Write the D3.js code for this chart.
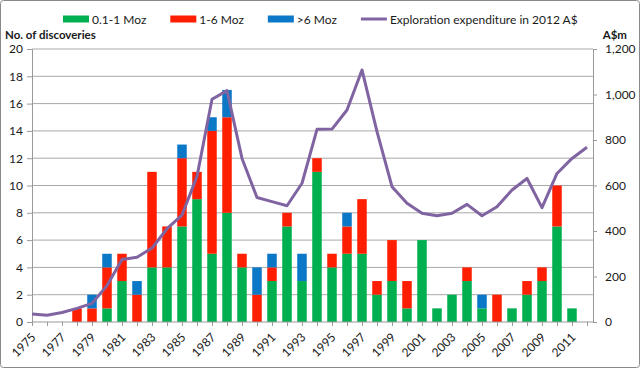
<!DOCTYPE html>
<html>
<head>
<meta charset="utf-8">
<script src="https://cdn.jsdelivr.net/npm/d3@7"></script>
<style>
  body { margin: 0; background: #fff; }
  svg { display: block; font-family: Lato, "Open Sans", sans-serif; }
</style>
</head>
<body>
<div id="chart"></div>
<script>
var years = [1975, 1976, 1977, 1978, 1979, 1980, 1981, 1982, 1983, 1984,
  1985, 1986, 1987, 1988, 1989, 1990, 1991, 1992, 1993, 1994,
  1995, 1996, 1997, 1998, 1999, 2000, 2001, 2002, 2003, 2004,
  2005, 2006, 2007, 2008, 2009, 2010, 2011, 2012];

// number of discoveries by deposit size
var small = [0, 0, 0, 0, 0, 1, 3, 0, 4, 4, 7, 9, 5, 8, 4, 0, 3, 7, 3, 11,
  4, 5, 5, 2, 3, 1, 6, 1, 2, 3, 1, 0, 1, 2, 3, 7, 1, 0];
var medium = [0, 0, 0, 1, 1, 3, 2, 2, 7, 3, 5, 2, 9, 7, 1, 2, 1, 1, 0, 1,
  1, 2, 4, 1, 3, 2, 0, 0, 0, 1, 0, 2, 0, 1, 1, 3, 0, 0];
var large = [0, 0, 0, 0, 1, 1, 0, 1, 0, 0, 1, 0, 1, 2, 0, 2, 1, 0, 2, 0,
  0, 1, 0, 0, 0, 0, 0, 0, 0, 0, 1, 0, 0, 0, 0, 0, 0, 0];

// exploration expenditure, A$m (2012 dollars)
var expenditure = [35, 30, 42, 60, 82, 160, 275, 285, 325, 410,
  470, 640, 979, 1017, 719, 547, 529, 511, 610, 847,
  848, 932, 1108, 837, 595, 522, 478, 467, 478, 517,
  467, 507, 580, 631, 503, 653, 719, 768];

var countTicks = [0, 2, 4, 6, 8, 10, 12, 14, 16, 18, 20];
var moneyTicks = [0, 200, 400, 600, 800, 1000, 1200];
var yearLabels = [1975, 1977, 1979, 1981, 1983, 1985, 1987, 1989, 1991, 1993,
  1995, 1997, 1999, 2001, 2003, 2005, 2007, 2009, 2011];

var sizeKeys = ["small", "medium", "large"];
var sizeNames = ["0.1-1 Moz", "1-6 Moz", ">6 Moz"];
var sizeColors = ["#00b050", "#ff1f00", "#0a77c7"];
var lineName = "Exploration expenditure in 2012 A$";

function DiscoveryChart(element, width, height) {
  var _chart = {};

  var _margins = { top: 49, right: 47, bottom: 46, left: 32 },
    _width = width || 640,
    _height = height || 368,
    _svg, _bodyG, _x, _y, _y2;

  _chart.render = function() {
    _svg = d3.select(element).append("svg")
      .attr("width", _width)
      .attr("height", _height);

    _svg.append("rect")
      .attr("x", 0.5).attr("y", 0.5)
      .attr("width", _width - 1).attr("height", _height - 1)
      .attr("rx", 3)
      .attr("fill", "#fff")
      .attr("stroke", "#8a8a8a");

    _x = d3.scalePoint().domain(years).range([0, 555]);
    _y = d3.scaleLinear().domain([0, 20]).range([visibleHeight(), 0]);
    _y2 = d3.scaleLinear().domain([0, 1200]).range([visibleHeight(), 0]);

    _bodyG = _svg.append("g")
      .attr("transform", "translate(" + _margins.left + "," + _margins.top + ")");

    renderGrid();
    renderBars();
    renderAxes();
    renderLine();
    renderLegend();
    return _chart;
  };

  function visibleHeight() {
    return _height - _margins.top - _margins.bottom;
  }

  function visibleWidth() {
    return _width - _margins.left - _margins.right;
  }

  function renderGrid() {
    _bodyG.append("g").selectAll("line")
      .data(countTicks.slice(1))
      .join("line")
      .attr("x1", 0).attr("x2", visibleWidth())
      .attr("y1", function(d) { return _y(d); })
      .attr("y2", function(d) { return _y(d); })
      .attr("stroke", "#a9a9a9")
      .attr("stroke-width", 1);
  }

  function renderBars() {
    var rows = years.map(function(yr, i) {
      return { year: yr, small: small[i], medium: medium[i], large: large[i] };
    });
    var series = d3.stack().keys(sizeKeys)(rows);
    var barW = 9.5;

    _bodyG.append("g").selectAll("g")
      .data(series)
      .join("g")
      .attr("fill", function(d, i) { return sizeColors[i]; })
      .selectAll("rect")
      .data(function(d) { return d.filter(function(p) { return p[1] > p[0]; }); })
      .join("rect")
      .attr("x", function(d) { return _x(d.data.year) - barW / 2; })
      .attr("width", barW)
      .attr("y", function(d) { return _y(d[1]); })
      .attr("height", function(d) { return _y(d[0]) - _y(d[1]); });
  }

  function renderAxes() {
    var h = visibleHeight(), w = visibleWidth();

    var left = _bodyG.append("g")
      .call(d3.axisLeft(_y).tickValues(countTicks).tickSize(5).tickPadding(4));
    styleAxis(left);

    var right = _bodyG.append("g")
      .attr("transform", "translate(" + w + ",0)")
      .call(d3.axisRight(_y2).tickValues(moneyTicks).tickSize(4).tickPadding(8)
        .tickFormat(d3.format(",")));
    styleAxis(right);

    var bottom = _bodyG.append("g")
      .attr("transform", "translate(0," + h + ")")
      .call(d3.axisBottom(_x).tickSize(4).tickSizeOuter(0)
        .tickFormat(function(d) { return yearLabels.indexOf(d) >= 0 ? d : ""; }));
    bottom.select(".domain").remove();
    bottom.append("line")
      .attr("x1", 0).attr("x2", w)
      .attr("stroke", "#9a9a9a");
    styleAxis(bottom);
    bottom.selectAll("text")
      .attr("x", 0).attr("y", 0).attr("dy", "0.35em")
      .attr("text-anchor", "end")
      .attr("transform", "translate(1,13) rotate(-45)");

    _svg.append("text")
      .attr("x", 5).attr("y", 38.5)
      .attr("font-size", 11.5).attr("font-weight", "bold")
      .attr("fill", "#1a1a1a")
      .text("No. of discoveries");

    _svg.append("text")
      .attr("x", 627).attr("y", 38.5)
      .attr("text-anchor", "end")
      .attr("font-size", 11.5).attr("font-weight", "bold")
      .attr("fill", "#1a1a1a")
      .text("A$m");
  }

  function styleAxis(g) {
    g.select(".domain").attr("stroke", "#9a9a9a");
    g.selectAll(".tick line").attr("stroke", "#9a9a9a");
    g.selectAll("text")
      .attr("font-size", 12)
      .attr("font-family", "Lato, 'Open Sans', sans-serif")
      .attr("fill", "#1a1a1a");
  }

  function renderLine() {
    var line = d3.line()
      .x(function(d, i) { return _x(years[i]); })
      .y(function(d) { return _y2(d); });

    _bodyG.append("path")
      .datum(expenditure)
      .attr("d", line)
      .attr("fill", "none")
      .attr("stroke", "#8064a2")
      .attr("stroke-width", 3)
      .attr("stroke-linejoin", "round");
  }

  function renderLegend() {
    var legend = _svg.append("g")
      .attr("transform", "translate(63,19)");
    var cursor = 0;
    var items = sizeNames.map(function(n, i) { return { name: n, color: sizeColors[i], line: false }; });
    items.push({ name: lineName, color: "#8064a2", line: true });

    items.forEach(function(item) {
      var g = legend.append("g").attr("transform", "translate(" + cursor + ",0)");
      if (item.line) {
        g.append("line")
          .attr("x1", 0).attr("x2", 26)
          .attr("stroke", item.color).attr("stroke-width", 3);
      } else {
        g.append("rect")
          .attr("x", 0).attr("y", -3.5)
          .attr("width", 26).attr("height", 7)
          .attr("fill", item.color);
      }
      var t = g.append("text")
        .attr("x", 29).attr("y", 4.5)
        .attr("font-size", 12)
        .attr("fill", "#1a1a1a")
        .text(item.name);
      cursor += 29 + t.node().getComputedTextLength() + 24;
    });
  }

  return _chart;
}

DiscoveryChart("#chart", 640, 368).render();
</script>
</body>
</html>
